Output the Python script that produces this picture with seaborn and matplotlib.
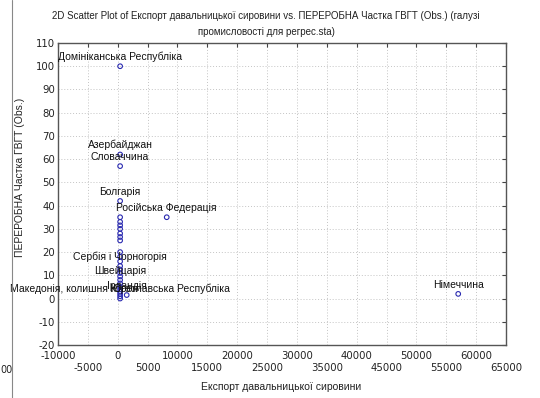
import numpy as np
import pandas as pd
import matplotlib.pyplot as plt
from matplotlib.lines import Line2D
import seaborn as sns

# data
column_y = [100, 62, 57, 42, 35, 33, 31.5, 30, 28, 26.5, 25, 20, 18, 16, 14,
            12.5, 11, 9.5, 8, 6.5, 5, 4, 3, 2, 1, 0]
export_vals = [400] * len(column_y) + [8200, 57000, 1500]
share_vals = column_y + [35, 2, 1.5]

label_names = ["Домініканська Республіка", "Азербайджан", "Словаччина", "Болгарія",
               "Російська Федерація", "Сербія і Чорногорія", "Швейцарія",
               "Македонія, колишня Югославська Республіка", "Корея", "Ірландія",
               "Німеччина"]
label_x = [400, 400, 400, 400, 8200, 400, 400, 400, 1000, 1500, 57000]
label_y = [100, 62, 57, 42, 35, 14, 8, 0, 0, 1.5, 2]

x_ticks = list(range(-10000, 65001, 5000))
y_ticks = list(range(-20, 111, 10))

df = pd.DataFrame({"export": export_vals, "share": share_vals})

sns.set_style("white")
plt.rcParams["font.family"] = ["Liberation Sans", "DejaVu Sans"]

fig = plt.figure(figsize=(5.4, 3.98), dpi=100)
ax = fig.add_axes([58 / 540, 1 - 345 / 398, 448 / 540, 302 / 398])

sns.scatterplot(data=df, x="export", y="share", ax=ax, marker="o", s=11,
                facecolors="none", edgecolors="#2a2ab0", linewidth=0.8, zorder=3)

for name, lx, ly in zip(label_names, label_x, label_y):
    ax.annotate(name, (lx, ly), xytext=(0, 3), textcoords="offset points",
                ha="center", va="bottom", fontsize=7.5, color="#111111")

ax.set_xlim(-10000, 65000)
ax.set_ylim(-20, 110)
ax.set_xticks(x_ticks)
ax.set_yticks(y_ticks)
x_labels = [str(t) if i % 2 == 0 else "\n" + str(t) for i, t in enumerate(x_ticks)]
ax.set_xticklabels(x_labels, family="DejaVu Sans", fontsize=7.3, color="#222222",
                   linespacing=1.3)
ax.set_yticklabels([str(t) for t in y_ticks], family="DejaVu Sans", fontsize=7.3,
                   color="#222222")
ax.tick_params(direction="in", length=3, width=0.8, color="#444444",
               top=True, right=True, pad=2)
ax.tick_params(axis="x", pad=4)
ax.grid(True, linestyle=(0, (1, 2)), color="#c4c4c4", linewidth=0.7)
for sp in ax.spines.values():
    sp.set_color("#555555")
    sp.set_linewidth(1.0)
ax.set_xlabel("")
ax.set_ylabel("")

fig.text(266 / 540, 1 - 16 / 398,
         "2D Scatter Plot of Експорт давальницької сировини vs. ПЕРЕРОБНА Частка ГВГТ (Obs.) (галузі",
         ha="center", va="center", fontsize=7, color="#222222")
fig.text(266 / 540, 1 - 32 / 398, "промисловості для регрес.sta)",
         ha="center", va="center", fontsize=7, color="#222222")
fig.text(281 / 540, 1 - 387 / 398, "Експорт давальницької сировини",
         ha="center", va="center", fontsize=7.5, color="#222222")
fig.text(20 / 540, 1 - 177 / 398, "ПЕРЕРОБНА Частка ГВГТ (Obs.)",
         ha="center", va="center", rotation=90, fontsize=7.5, color="#222222")

# screenshot edge remnants on the left
fig.add_artist(Line2D([12 / 540, 12 / 540], [0, 1], color="#888888", linewidth=0.8))
fig.text(0.5 / 540, 1 - 370 / 398, "00", ha="left", va="center",
         family="DejaVu Sans", fontsize=7, color="#222222")

fig.savefig("out.png", dpi=100)
